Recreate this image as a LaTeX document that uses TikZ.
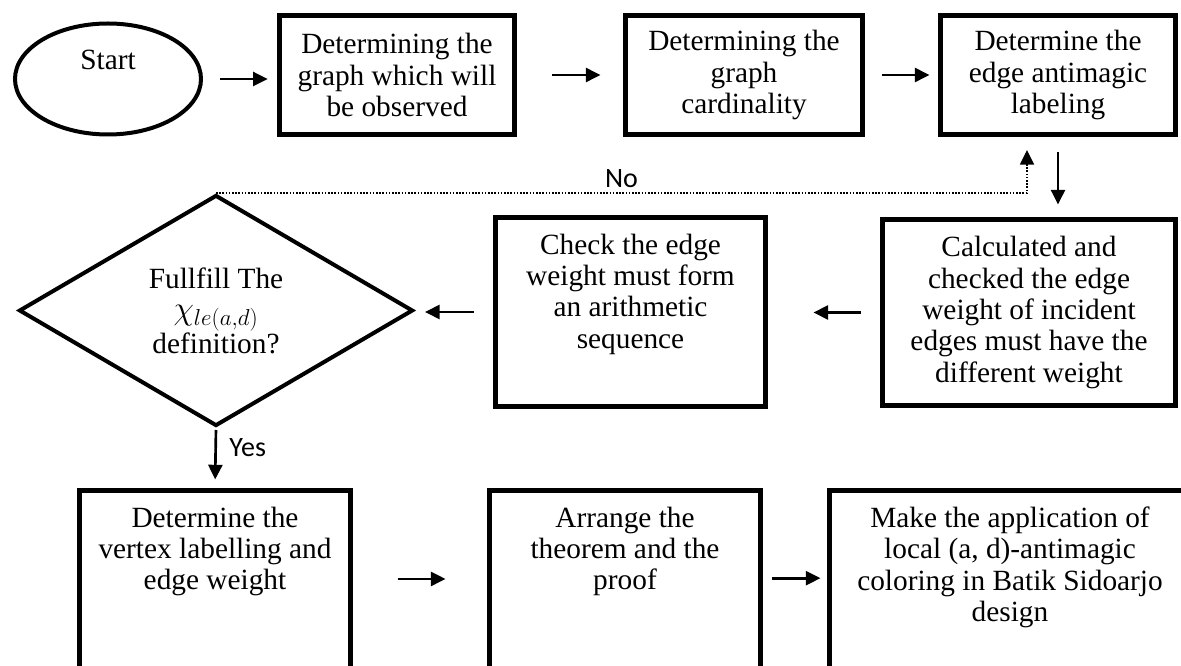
\documentclass[tikz,border=0pt]{standalone}
\usepackage{fontspec}
\setmainfont{Liberation Serif}
\newfontfamily\labelfont{Carlito}
\usetikzlibrary{arrows.meta, positioning, shapes.geometric}
\newcommand{\boxfont}{\fontsize{22pt}{23.5pt}\selectfont}

\begin{document}
\begin{tikzpicture}[x=0.75pt, y=-0.75pt,
	stepbox/.style={rectangle, draw, line width=3.75pt, align=center, font=\boxfont},
	boxtext/.style={align=center, font=\boxfont, inner sep=0pt},
	flow/.style={line width=2pt, -{Triangle[length=11pt, width=10.5pt]}},
	noflow/.style={flow, line width=1.2pt, dash pattern=on 1.2pt off 1.2pt},
	answer/.style={font=\labelfont\fontsize{21pt}{24pt}\selectfont}]
	\clip[use as bounding box] (0,0) rectangle (1181,666);
	
	% Start
	\node[ellipse, draw, line width=3pt, minimum width=139.5pt, minimum height=83.25pt] (start) at (108,79) {};
	\node[boxtext] (starttxt) at (108,60) {Start};
	
	% Top row
	\node[stepbox, minimum width=176.25pt, minimum height=89.25pt] (graph) at (397,75) {Determining the\\graph which will\\be observed};
	\node[stepbox, minimum width=177.75pt, minimum height=89.25pt] (card) at (744,75) {Determining the\\graph\\cardinality};
	\node[stepbox, minimum width=176.25pt, minimum height=89.25pt] (label) at (1058,75) {Determine the\\edge antimagic\\labeling};
	
	% Middle row
	\node[stepbox, minimum width=219.75pt, minimum height=139.5pt] (weight) at (1029,312.5) {Calculated and\\checked the edge\\weight of incident\\edges must have the\\different weight};
	\node[stepbox, minimum width=202.5pt, minimum height=141.75pt] (check) at (630.5,312) {};
	\node[boxtext, below=14pt of check.north] (checktxt) {Check the edge\\weight must form\\an arithmetic\\sequence};
	\node[diamond, draw, line width=3pt, minimum width=295.5pt, minimum height=173.25pt, inner sep=0pt, align=center, font=\boxfont] (fulfil) at (216,310.5) {Fullfill The\\{\fontsize{25pt}{25pt}\selectfont$\chi_{le(a,d)}$}\\definition?};
	
	% Bottom row
	\node[stepbox, minimum width=203.25pt, minimum height=151.5pt] (vertex) at (215,591.5) {};
	\node[boxtext, below=14pt of vertex.north] (vertextxt) {Determine the\\vertex labelling and\\edge weight};
	\node[stepbox, minimum width=203.25pt, minimum height=151.5pt] (theorem) at (625,591.5) {};
	\node[boxtext, below=14pt of theorem.north] (theoremtxt) {Arrange the\\theorem and the\\proof};
	\node[stepbox, minimum width=270.75pt, minimum height=151.5pt] (batik) at (1010,591.5) {};
	\node[boxtext, below=14pt of batik.north] (batiktxt) {Make the application of\\local (a, d)-antimagic\\coloring in Batik Sidoarjo\\design};
	
	% Edges
	% Top row, left to right
	\draw[flow, shorten <=12.75pt, shorten >=7pt] (start.east) -- (start.east -| graph.west);
	\draw[flow, shorten <=26.6pt, shorten >=16.9pt] (graph.east) -- (card.west);
	\draw[flow, shorten <=13.1pt, shorten >=6.4pt] (card.east) -- (label.west);
	
	% Down and back to the decision
	\draw[flow, shorten <=11.6pt, shorten >=9.4pt] (label.south) -- (label.south |- weight.north);
	\draw[flow, shorten <=14.6pt, shorten >=34.1pt] (weight.west) -- (weight.west -| check.east);
	\draw[flow, shorten <=14.6pt, shorten >=7.5pt] (check.west) -- (check.west -| fulfil.east);
	
	% Decision
	\draw[noflow, shorten >=9.75pt] (fulfil.north) -| ([xshift=-23.25pt]label.south) node[answer, above, pos=0.25] {No};
	\draw[flow, shorten <=1.5pt, shorten >=6.4pt] (fulfil.south) -- (vertex.north) node[answer, right=6pt, pos=0.33] {Yes};
	
	% Bottom row
	\draw[flow, shorten <=33.4pt, shorten >=31.1pt] ([yshift=9.4pt]vertex.east) -- ([yshift=9.4pt]vertex.east -| theorem.west);
	\draw[flow, shorten <=7.1pt, shorten >=4.9pt] ([yshift=10pt]theorem.east) -- ([yshift=10pt]theorem.east -| batik.west);
\end{tikzpicture}
\end{document}
